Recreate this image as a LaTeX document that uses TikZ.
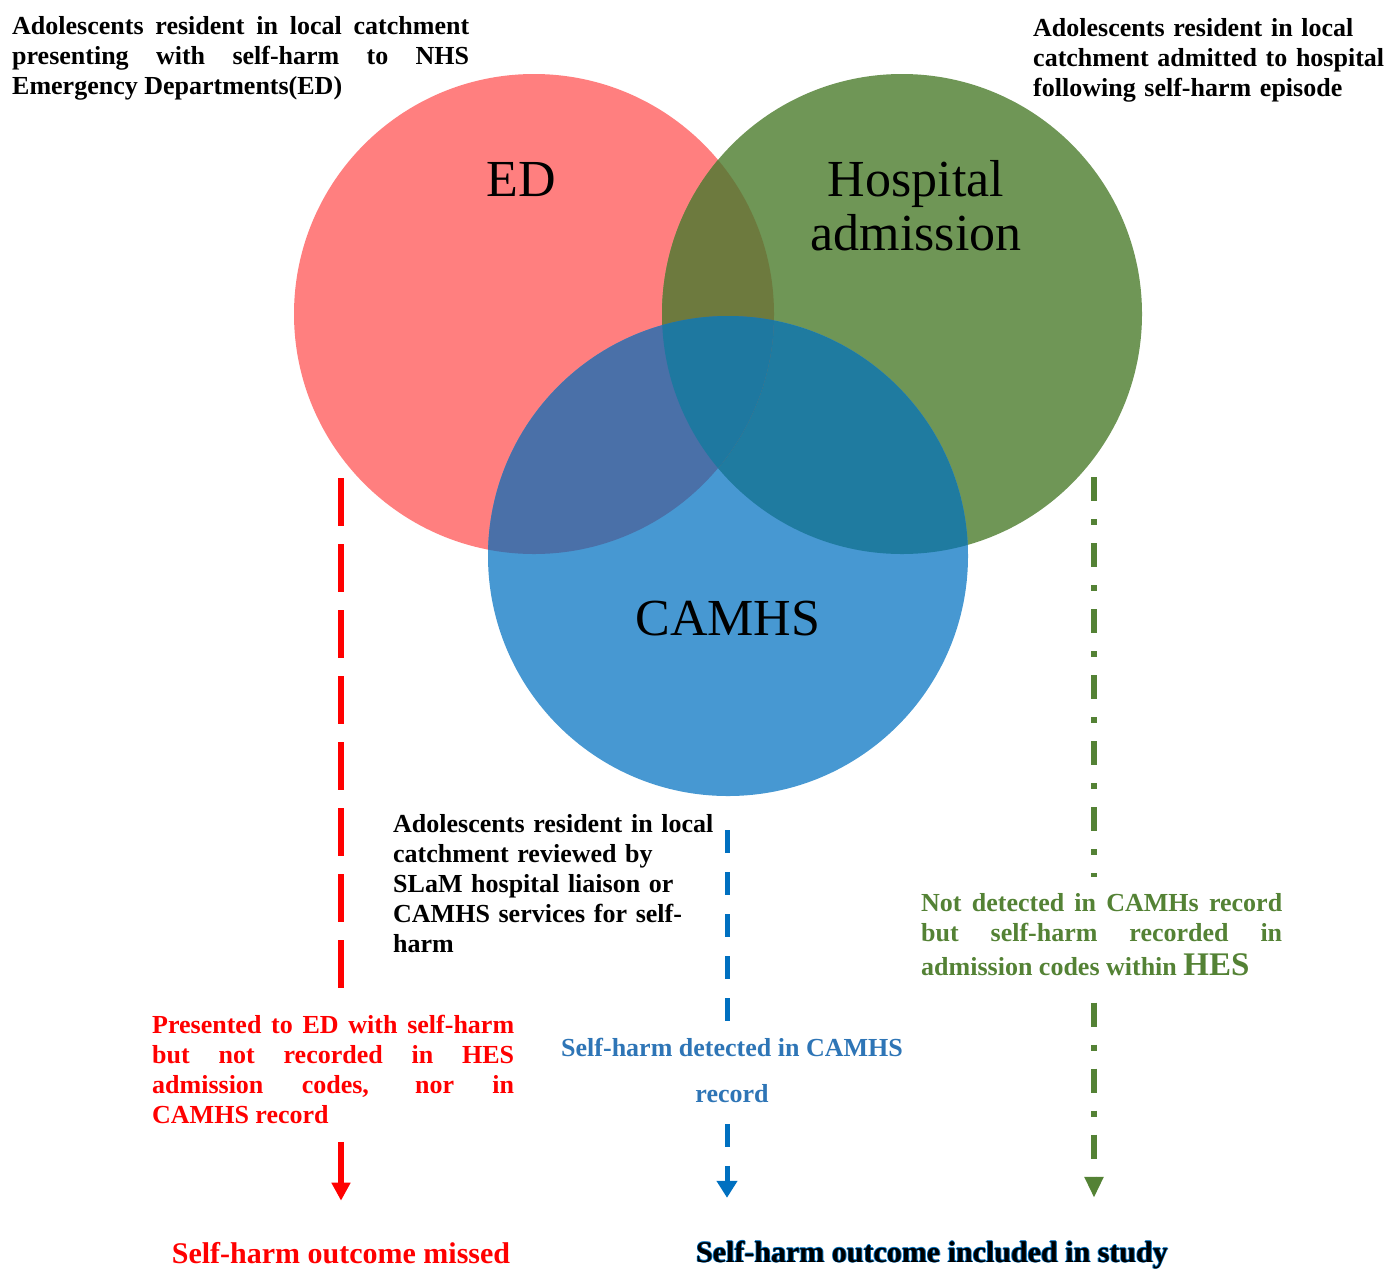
\documentclass[tikz,border=0pt]{standalone}
\usepackage{fontspec}
\setmainfont{Liberation Serif}
\usetikzlibrary{arrows.meta}
\hyphenpenalty=10000
\exhyphenpenalty=10000

\definecolor{edred}{HTML}{FF7F7F}
\definecolor{hosgreen}{HTML}{6F9656}
\definecolor{camblue}{HTML}{4798D2}
\definecolor{edhos}{HTML}{6D7A3E}
\definecolor{edcam}{HTML}{4A70A8}
\definecolor{hoscam}{HTML}{1F7BA0}
\definecolor{allthree}{HTML}{1E78A0}
\definecolor{linered}{HTML}{FF0000}
\definecolor{lineblue}{HTML}{0070C0}
\definecolor{linegreen}{HTML}{548235}
\definecolor{txtblue}{HTML}{2E75B6}

% black lettering with a thin blue rim
\newcommand\bluerim[1]{\leavevmode
  \rlap{\color{lineblue}\kern0.9pt #1}%
  \rlap{\color{lineblue}\kern-0.9pt #1}%
  \rlap{\color{lineblue}\raisebox{0.9pt}{#1}}%
  \rlap{\color{lineblue}\raisebox{-0.9pt}{#1}}%
  #1}

\begin{document}
\begin{tikzpicture}[x=1pt,y=-1pt,
  setcircle/.style={circle, minimum size=480pt, inner sep=0pt, outer sep=0pt},
  desc/.style={inner sep=0pt, anchor=north west, align=justify,
    font=\bfseries\fontsize{26}{30}\selectfont},
  big/.style={inner sep=0pt, align=center, font=\fontsize{52}{54}\selectfont},
  outcome/.style={inner sep=0pt, anchor=base, font=\bfseries\fontsize{30}{34}\selectfont},
  redflow/.style={draw=linered, line width=6pt, dash pattern=on 48pt off 18pt},
  redarrow/.style={draw=linered, line width=6pt, -{Triangle[width=18pt,length=18pt]}},
  blueflow/.style={draw=lineblue, line width=5pt, dash pattern=on 23pt off 19pt},
  bluearrow/.style={blueflow, -{Triangle[width=20pt,length=17pt]}},
  greenflow/.style={draw=linegreen, line width=6pt, dash pattern=on 24pt off 18pt on 6pt off 18pt},
  greenarrow/.style={greenflow, -{Triangle[width=18pt,length=21pt]}}
]
\useasboundingbox (0,0) rectangle (1389,1270);

% the three sets
\node[setcircle, fill=edred] (ed) at (534,314) {};
\node[setcircle, fill=hosgreen] (hos) at (902,314) {};
\node[setcircle, fill=camblue] (cam) at (728,556) {};

% overlaps
\begin{scope}
  \clip (902,314) circle[radius=240];
  \fill[hoscam] (728,556) circle[radius=240];
\end{scope}
\begin{scope}
  \clip (534,314) circle[radius=240];
  \fill[edhos] (902,314) circle[radius=240];
  \fill[edcam] (728,556) circle[radius=240];
  \clip (902,314) circle[radius=240];
  \fill[allthree] (728,556) circle[radius=240];
\end{scope}

% set names
\node[big, anchor=base] (edname) at (521,196) {ED};
\node[big, anchor=north] (hosname) at (916,160) {Hospital\\admission};
\node[big, anchor=base] (camname) at (728,635) {CAMHS};

% descriptions of the sources
\node[desc, text width=457pt] (edinfo) at (12,16)
  {Adolescents resident in local catchment\linebreak
   presenting with self-harm to NHS\linebreak
   Emergency Departments(ED)};
\node[desc, align=left, text width=354pt] (hosinfo) at (1033,18)
  {Adolescents resident in local\\
   catchment admitted to hospital\\
   following self-harm episode};
\node[desc, align=left, text width=335pt] (caminfo) at (393,814)
  {Adolescents resident in local\\
   catchment reviewed by\\
   SLaM hospital liaison or\\
   CAMHS services for self-\\
   harm};

% pathway texts
\node[desc, text width=362pt, text=linered] (redtxt) at (152,1015)
  {Presented to ED with self-harm\linebreak
   but not recorded in HES\linebreak
   admission codes, nor in\linebreak
   CAMHS record};
\node[inner sep=0pt, anchor=north, align=center, text=txtblue,
      font=\bfseries\fontsize{26}{46}\selectfont] (bluetxt) at (732,1038)
  {Self-harm detected in CAMHS\\record};
\node[desc, text width=361pt, text=linegreen] (greentxt) at (921,893)
  {Not detected in CAMHs record\linebreak
   but self-harm recorded in\linebreak
   admission codes within {\fontsize{33}{34}\selectfont\rule{0pt}{32.5pt}HES}};

% outcomes
\node[outcome, text=linered] (missed) at (341,1263) {Self-harm outcome missed};
\node[outcome] (included) at (932,1262) {\bluerim{Self-harm outcome included in study}};

% flow lines
\coordinate (redtop) at (341,478);
\coordinate (bluetop) at (727,830);
\coordinate (greentop) at (1094,477);

\draw[redflow, shorten >=24pt] (redtop) -- (redtxt.north -| redtop);
\draw[redarrow, shorten <=18pt, shorten >=41pt] (redtxt.south -| redtop) -- (missed.north -| redtop);

\draw[blueflow, shorten >=10pt] (bluetop) -- (bluetxt.north -| bluetop);
\draw[bluearrow, shorten <=21pt, shorten >=42pt] (bluetxt.south -| bluetop) -- (included.north -| bluetop);

\draw[greenflow, shorten >=16pt] (greentop) -- (greentxt.north -| greentop);
\draw[greenarrow, shorten <=27pt, shorten >=42pt] (greentxt.south -| greentop) -- (included.north -| greentop);
\end{tikzpicture}
\end{document}
